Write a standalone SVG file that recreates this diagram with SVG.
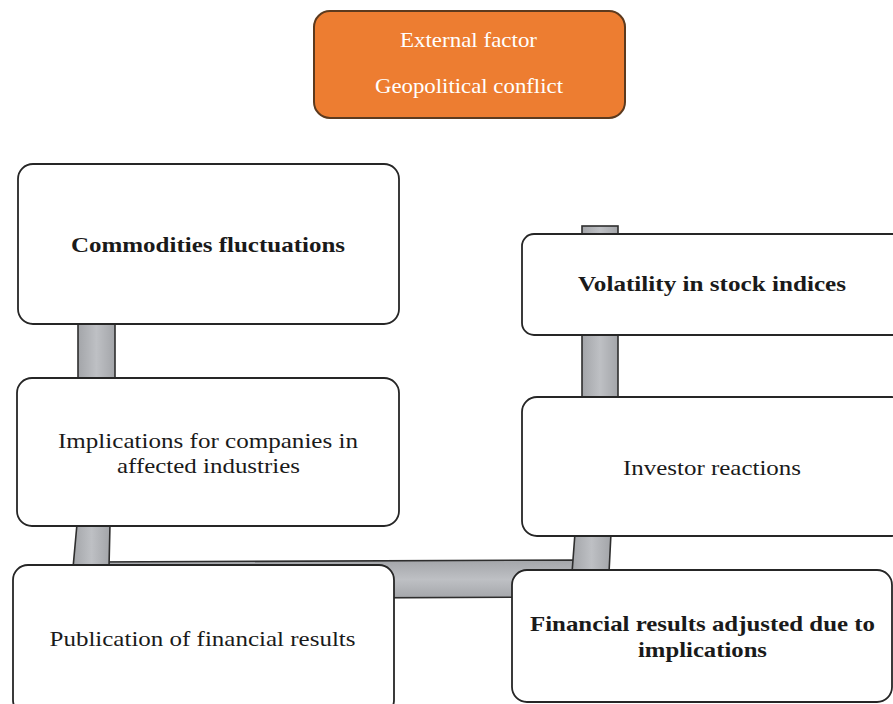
<svg xmlns="http://www.w3.org/2000/svg" width="893" height="704" viewBox="0 0 893 704">
<defs>
<linearGradient id="gv" x1="0" y1="0" x2="1" y2="0">
<stop offset="0" stop-color="#A3A5A9"/><stop offset="0.5" stop-color="#BEC0C4"/><stop offset="1" stop-color="#A3A5A9"/>
</linearGradient>
<linearGradient id="gh" x1="0" y1="0" x2="0" y2="1">
<stop offset="0" stop-color="#A3A5A9"/><stop offset="0.5" stop-color="#BEC0C4"/><stop offset="1" stop-color="#A3A5A9"/>
</linearGradient>
<style>
.box{fill:#fff;stroke:#262626;stroke-width:1.8}
.orange{fill:#ED7D31;stroke:#5C3A1E;stroke-width:2}
.cv{fill:url(#gv);stroke:#2e2e2e;stroke-width:1.6}
.ch{fill:url(#gh);stroke:#2e2e2e;stroke-width:1.6}
text{font-family:"Liberation Serif","Times New Roman",serif;font-size:21px;text-anchor:middle;fill:#1a1a1a}
.b{font-weight:bold}
.w{fill:#fff}
</style>
</defs>
<g id="connectors">
<polygon class="ch" points="90,562 580,560 580,597 90,599"/>
<rect class="cv" x="78" y="322" width="37" height="58"/>
<polygon class="cv" points="77,524 110,524 109,568 73,568"/>
<rect class="cv" x="582" y="226" width="36" height="12"/>
<rect class="cv" x="582" y="332" width="36" height="67"/>
<polygon class="cv" points="575,533 611,533 609,573 572,573"/>
</g>
<g id="n-external">
<rect class="orange" x="314" y="11" width="311" height="107" rx="16"/>
<text class="w" x="468.5" y="47" textLength="137" lengthAdjust="spacingAndGlyphs">External factor</text>
<text class="w" x="469" y="93" textLength="188" lengthAdjust="spacingAndGlyphs">Geopolitical conflict</text>
</g>
<g id="n-commodities">
<rect class="box" x="18" y="164" width="381" height="160" rx="15"/>
<text class="b" x="208" y="252" textLength="274" lengthAdjust="spacingAndGlyphs">Commodities fluctuations</text>
</g>
<g id="n-implications">
<rect class="box" x="17" y="378" width="382" height="148" rx="15"/>
<text x="208" y="448" textLength="300" lengthAdjust="spacingAndGlyphs">Implications for companies in</text>
<text x="208.5" y="473" textLength="183" lengthAdjust="spacingAndGlyphs">affected industries</text>
</g>
<g id="n-publication">
<rect class="box" x="13" y="565" width="381" height="150" rx="15"/>
<text x="202.5" y="646" textLength="306" lengthAdjust="spacingAndGlyphs">Publication of financial results</text>
</g>
<g id="n-volatility">
<rect class="box" x="522" y="234" width="385" height="101" rx="12"/>
<text class="b" x="712" y="291" textLength="268" lengthAdjust="spacingAndGlyphs">Volatility in stock indices</text>
</g>
<g id="n-investor">
<rect class="box" x="522" y="397" width="385" height="139" rx="15"/>
<text x="712" y="475" textLength="178" lengthAdjust="spacingAndGlyphs">Investor reactions</text>
</g>
<g id="n-financial">
<rect class="box" x="512" y="570" width="380" height="132" rx="15"/>
<text class="b" x="702.5" y="631" textLength="345" lengthAdjust="spacingAndGlyphs">Financial results adjusted due to</text>
<text class="b" x="702.5" y="657" textLength="129" lengthAdjust="spacingAndGlyphs">implications</text>
</g>
</svg>
